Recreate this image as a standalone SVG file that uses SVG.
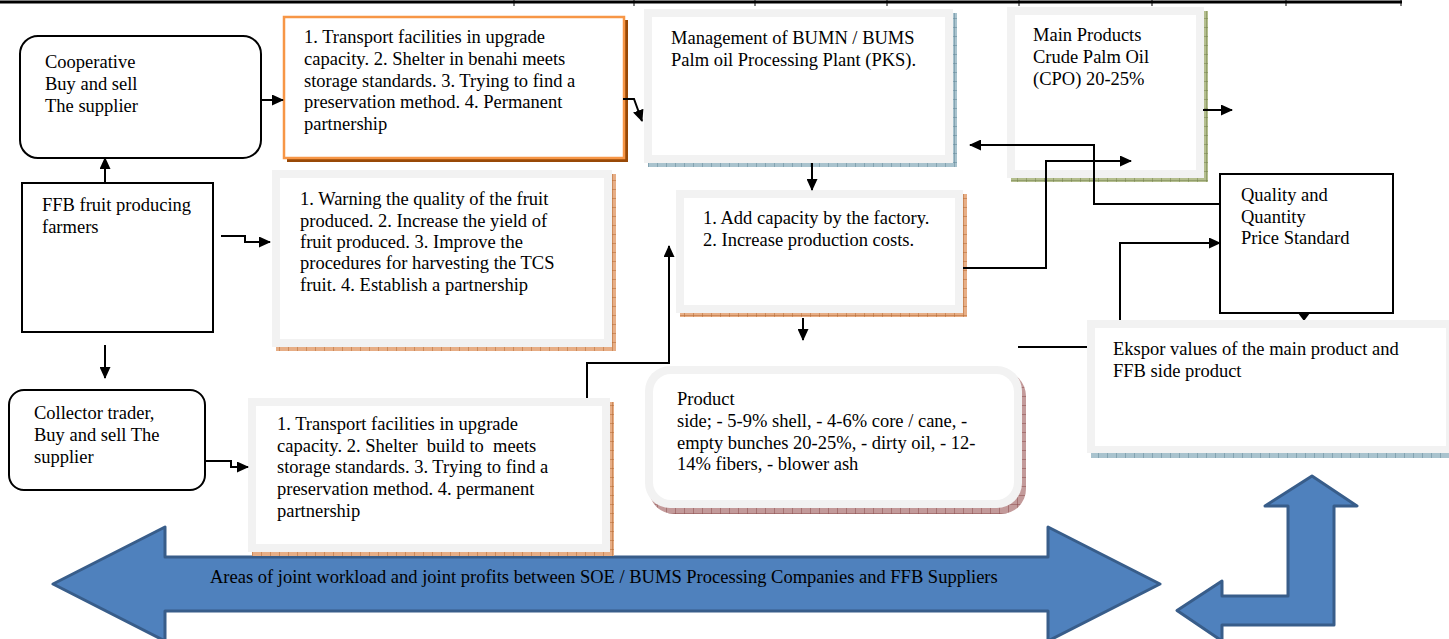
<svg xmlns="http://www.w3.org/2000/svg" width="1449" height="639" viewBox="0 0 1449 639">
<style>
.t{font-family:"Liberation Serif","Times New Roman",serif;font-size:18.5px;fill:#000}
.ln{fill:none;stroke:#000;stroke-width:2}
.ar{marker-end:url(#ah)}
.fr{fill:#F2F2F2}
.in{fill:#fff}
.bx{fill:#fff;stroke:#000;stroke-width:2}
.big{fill:#4F81BD;stroke:#385D8A;stroke-width:3;stroke-linejoin:round}
</style>
<defs>
<marker id="ah" viewBox="0 0 12 11" refX="11" refY="5.5" markerWidth="12" markerHeight="11" markerUnits="userSpaceOnUse" orient="auto">
<path d="M0,0 L12,5.5 L0,11 z" fill="#000"/>
</marker>
<pattern id="pb" width="9" height="9" patternUnits="userSpaceOnUse"><rect width="9" height="9" fill="#A9C3CE"/><path d="M0,0V9M0,0H9" stroke="#5F8596" stroke-width="1"/></pattern>
<pattern id="pg" width="9" height="9" patternUnits="userSpaceOnUse"><rect width="9" height="9" fill="#B4BE8E"/><path d="M0,0V9M0,0H9" stroke="#73814A" stroke-width="1"/></pattern>
<pattern id="po" width="9" height="9" patternUnits="userSpaceOnUse"><rect width="9" height="9" fill="#E7AE86"/><path d="M0,0V9M0,0H9" stroke="#B4662E" stroke-width="1"/></pattern>
<pattern id="pr" width="9" height="9" patternUnits="userSpaceOnUse"><rect width="9" height="9" fill="#C39A9A"/><path d="M0,0V9M0,0H9" stroke="#8A4A4A" stroke-width="1"/></pattern>
</defs>

<g id="table-top">
<line x1="0" y1="2" x2="1402" y2="2" stroke="#000" stroke-width="3"/>
<path d="M514,0V6M634,0V6M755,0V6M887,0V6M1019,0V6M1152,0V6M1286,0V6M1401,0V6" stroke="#000" stroke-width="1"/>
</g>

<g id="big-arrow">
<polygon class="big" points="53,584 165,527 165,557 1048,557 1048,527 1160,584 1048,641 1048,611 165,611 165,641"/>
<text class="t" x="210" y="583">Areas of joint workload and joint profits between SOE / BUMS Processing Companies and FFB Suppliers</text>
</g>
<g id="l-arrow">
<polygon class="big" points="1312,476 1357,506 1334,506 1334,625 1222,625 1222,641 1177,610.5 1222,581 1222,596 1288,596 1288,506 1265,506"/>
</g>

<g id="cooperative">
<rect class="bx" x="20" y="36" width="241" height="122" rx="18"/>
<text class="t" x="45" y="68">Cooperative</text>
<text class="t" x="45" y="90">Buy and sell</text>
<text class="t" x="45" y="112">The supplier</text>
</g>

<g id="ffb-farmers">
<rect class="bx" x="22" y="183" width="191" height="149"/>
<text class="t" x="42" y="211">FFB fruit producing</text>
<text class="t" x="42" y="233">farmers</text>
</g>

<g id="collector">
<rect class="bx" x="9" y="390" width="196" height="100" rx="15"/>
<text class="t" x="34" y="419">Collector trader,</text>
<text class="t" x="34" y="441">Buy and sell The</text>
<text class="t" x="34" y="463">supplier</text>
</g>

<g id="transport-top">
<rect x="287" y="20" width="341" height="142" fill="#984806"/>
<rect x="284" y="17" width="340" height="141" fill="#fff" stroke="#F79646" stroke-width="2.5"/>
<text class="t" x="304" y="43">1. Transport facilities in upgrade</text>
<text class="t" x="304" y="65">capacity. 2. Shelter in benahi meets</text>
<text class="t" x="304" y="87">storage standards. 3. Trying to find a</text>
<text class="t" x="304" y="108">preservation method. 4. Permanent</text>
<text class="t" x="304" y="130">partnership</text>
</g>

<g id="warning">
<rect x="276" y="174" width="340" height="177" fill="url(#po)"/>
<rect class="fr" x="272" y="170" width="340" height="177"/>
<rect class="in" x="280" y="178" width="324" height="161"/>
<text class="t" x="300" y="205">1. Warning the quality of the fruit</text>
<text class="t" x="300" y="227">produced. 2. Increase the yield of</text>
<text class="t" x="300" y="248">fruit produced. 3. Improve the</text>
<text class="t" x="300" y="269">procedures for harvesting the TCS</text>
<text class="t" x="300" y="291">fruit. 4. Establish a partnership</text>
</g>

<g id="transport-bottom">
<rect x="252" y="402" width="362" height="154" fill="url(#po)"/>
<rect class="fr" x="248" y="398" width="362" height="154"/>
<rect class="in" x="256" y="406" width="346" height="138"/>
<text class="t" x="277" y="430">1. Transport facilities in upgrade</text>
<text class="t" x="277" y="452" xml:space="preserve">capacity. 2. Shelter  build to  meets</text>
<text class="t" x="277" y="473">storage standards. 3. Trying to find a</text>
<text class="t" x="277" y="495">preservation method. 4. permanent</text>
<text class="t" x="277" y="517">partnership</text>
</g>

<g id="management">
<rect x="648" y="13" width="309" height="154" fill="url(#pb)"/>
<rect class="fr" x="644" y="9" width="309" height="154"/>
<rect class="in" x="652" y="17" width="293" height="138"/>
<text class="t" x="671" y="44">Management of BUMN / BUMS</text>
<text class="t" x="671" y="66">Palm oil Processing Plant (PKS).</text>
</g>

<g id="add-capacity">
<rect x="680" y="194" width="287" height="123" fill="url(#po)"/>
<rect class="fr" x="676" y="190" width="287" height="123"/>
<rect class="in" x="684" y="198" width="271" height="107"/>
<text class="t" x="703" y="224">1. Add capacity by the factory.</text>
<text class="t" x="703" y="246">2. Increase production costs.</text>
</g>

<g id="product-side">
<rect x="649" y="371" width="377" height="143" rx="25" fill="url(#pr)"/>
<rect class="fr" x="645" y="366" width="377" height="142" rx="25"/>
<rect class="in" x="653" y="374" width="361" height="126" rx="18"/>
<text class="t" x="677" y="405">Product</text>
<text class="t" x="677" y="427">side; - 5-9% shell, - 4-6% core / cane, -</text>
<text class="t" x="677" y="449">empty bunches 20-25%, - dirty oil, - 12-</text>
<text class="t" x="677" y="470">14% fibers, - blower ash</text>
</g>

<g id="main-products">
<rect x="1011" y="11" width="197" height="171" fill="url(#pg)"/>
<rect class="fr" x="1007" y="7" width="197" height="171"/>
<rect class="in" x="1015" y="15" width="181" height="155"/>
<text class="t" x="1033" y="41">Main Products</text>
<text class="t" x="1033" y="63">Crude Palm Oil</text>
<text class="t" x="1033" y="85">(CPO) 20-25%</text>
</g>

<g id="quality">
<rect class="bx" x="1220" y="174" width="173" height="139"/>
<text class="t" x="1241" y="201">Quality and</text>
<text class="t" x="1241" y="223">Quantity</text>
<text class="t" x="1241" y="244">Price Standard</text>
<polygon points="1298,313 1310,313 1304,321" fill="#000"/>
</g>

<g id="ekspor">
<rect x="1091" y="325" width="362" height="133" fill="url(#pb)"/>
<rect class="fr" x="1087" y="320" width="366" height="133"/>
<rect class="in" x="1095" y="328" width="351" height="118"/>
<text class="t" x="1113" y="355">Ekspor values of the main product and</text>
<text class="t" x="1113" y="377">FFB side product</text>
</g>

<g id="connectors">
<line class="ln ar" x1="262" y1="100" x2="283" y2="100"/>
<path class="ln ar" d="M623,99 H634 L642,121"/>
<line class="ln ar" x1="105" y1="183" x2="105" y2="158"/>
<path class="ln ar" d="M221,236 H245 V242 H270"/>
<line class="ln ar" x1="105" y1="345" x2="105" y2="378"/>
<path class="ln ar" d="M205,461 H231 V467 H248"/>
<path class="ln ar" d="M587,398 V363 H669 V246"/>
<line class="ln ar" x1="812" y1="163" x2="812" y2="190"/>
<line class="ln ar" x1="803" y1="318" x2="803" y2="340"/>
<path class="ln ar" d="M963,268 H1046 V161 H1131"/>
<path class="ln ar" d="M1220,204 H1094 V145 H970"/>
<path class="ln ar" d="M1120,320 V243 H1220"/>
<line class="ln ar" x1="1203" y1="110" x2="1232" y2="110"/>
<line class="ln" x1="1018" y1="347" x2="1087" y2="347"/>
</g>
</svg>
